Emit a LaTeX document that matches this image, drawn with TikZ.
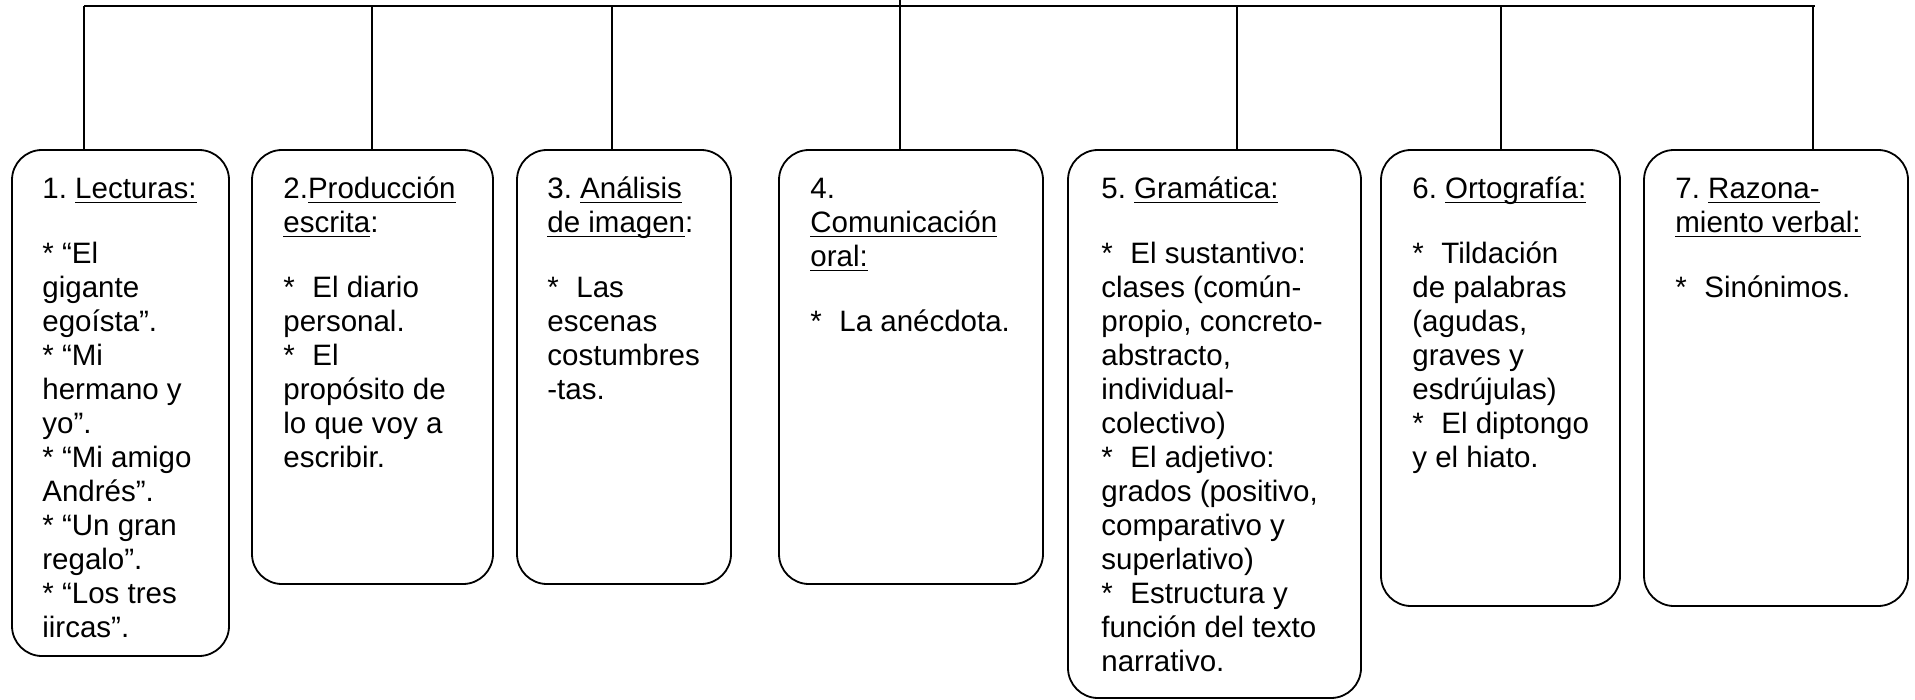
\documentclass[tikz,border=0pt]{standalone}
\usepackage{fontspec}
\setmainfont{Liberation Sans}
\usetikzlibrary{fit}
\frenchspacing
\newcommand\myul[1]{\setbox0\hbox{#1}\rlap{\rule[-2.5pt]{\wd0}{0.9pt}}\box0}
\newcommand\bul{\makebox[14.5pt][l]{*}}
\newcommand\fl{\rule{0pt}{12pt}}
\begin{document}
\begin{tikzpicture}[x=0.5pt,y=-0.5pt,
  box/.style={draw, line width=0.9pt, rounded corners=15pt, inner sep=0pt},
  txt/.style={anchor=north west, inner sep=0pt, align=left, font=\fontsize{14.75pt}{17pt}\selectfont\frenchspacing},
  conn/.style={line width=0.9pt}]
\useasboundingbox (0,0) rectangle (1915,700);

% boxes
\node[box, fit={(12,150) (229,656)}] (b1) {};
\node[box, fit={(252,150) (493,584)}] (b2) {};
\node[box, fit={(517,150) (731,584)}] (b3) {};
\node[box, fit={(779,150) (1043,584)}] (b4) {};
\node[box, fit={(1068,150) (1361,698)}] (b5) {};
\node[box, fit={(1381,150) (1620,606)}] (b6) {};
\node[box, fit={(1644,150) (1908,606)}] (b7) {};

% texts
\node[txt] (t1) at (42,174) {\fl 1. \myul{Lecturas:}\\[15.5pt]
* “El\\
gigante\\
egoísta”.\\
* “Mi\\
hermano y\\
yo”.\\
* “Mi amigo\\
Andrés”.\\
* “Un gran\\
regalo”.\\
* “Los tres\\
iircas”.};

\node[txt] (t2) at (283,174) {\fl 2.\myul{Producción}\\
\myul{escrita}:\\[15.5pt]
\bul El diario\\
personal.\\
\bul El\\
propósito de\\
lo que voy a\\
escribir.};

\node[txt] (t3) at (547,174) {\fl 3. \myul{Análisis}\\
\myul{de imagen}:\\[15.5pt]
\bul Las\\
escenas\\
costumbres\\
-tas.};

\node[txt] (t4) at (810,174) {\fl 4.\\
\myul{Comunicación}\\
\myul{oral:}\\[15.5pt]
\bul La anécdota.};

\node[txt] (t5) at (1101,174) {\fl 5. \myul{Gramática:}\\[15.5pt]
\bul El sustantivo:\\
clases (común-\\
propio, concreto-\\
abstracto,\\
individual-\\
colectivo)\\
\bul El adjetivo:\\
grados (positivo,\\
comparativo y\\
superlativo)\\
\bul Estructura y\\
función del texto\\
narrativo.};

\node[txt] (t6) at (1412,174) {\fl 6. \myul{Ortografía:}\\[15.5pt]
\bul Tildación\\
de palabras\\
(agudas,\\
graves y\\
esdrújulas)\\
\bul El diptongo\\
y el hiato.};

\node[txt] (t7) at (1675,174) {\fl 7. \myul{Razona-}\\
\myul{miento verbal:}\\[15.5pt]
\bul Sinónimos.};

% connectors
\coordinate (top) at (900,0);
\coordinate (busL) at (84,6);
\coordinate (busR) at (1815,6);
\coordinate (d2) at (372,6);
\coordinate (d3) at (612,6);
\coordinate (d5) at (1237,6);
\coordinate (d6) at (1501,6);
\coordinate (d7) at (1813,6);
\draw[conn] (busL) -- (busR);
\draw[conn] (top) -- (top |- b4.north);
\draw[conn] (busL) -- (busL |- b1.north);
\draw[conn] (d2) -- (d2 |- b2.north);
\draw[conn] (d3) -- (d3 |- b3.north);
\draw[conn] (d5) -- (d5 |- b5.north);
\draw[conn] (d6) -- (d6 |- b6.north);
\draw[conn] (d7) -- (d7 |- b7.north);
\end{tikzpicture}
\end{document}
